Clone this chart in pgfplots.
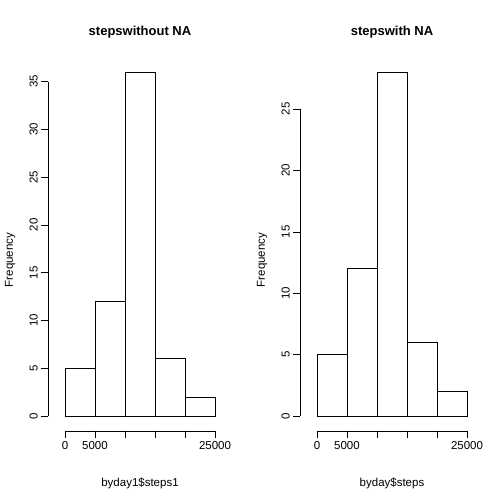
\documentclass[border=0pt]{standalone}
\usepackage{pgfplots}
\pgfplotsset{compat=1.18}
\usepackage{fontspec}
\setmainfont{Liberation Sans}
\begin{document}
\fontsize{11.5}{13}\selectfont
\begin{tikzpicture}
\fill[white] (0,0) rectangle (504pt,504pt);
\node[font=\bfseries\fontsize{13}{15}\selectfont] at (140pt,472pt) {stepswithout NA};
\node[font=\bfseries\fontsize{13}{15}\selectfont] at (392pt,472pt) {stepswith NA};
\node at (140pt,21pt) {byday1\$steps1};
\node at (392pt,21pt) {byday\$steps};
\node[rotate=90] at (10pt,244pt) {Frequency};
\node[rotate=90] at (262pt,244pt) {Frequency};
\begin{axis}[at={(65pt,88pt)},anchor=south west,width=150pt,height=344pt,scale only axis,
 xmin=0,xmax=25000,ymin=0,ymax=36,axis lines=none,clip=false]
\addplot[ybar interval,fill=white,draw=black] coordinates {(0,5)(5000,12)(10000,36)(15000,6)(20000,2)(25000,2)};
\draw ([xshift=-17pt]axis cs:0,0) -- ([xshift=-17pt]axis cs:0,35);
\pgfplotsinvokeforeach{0,5,10,15,20,25,30,35}{\draw ([xshift=-17pt]axis cs:0,#1) -- ++(-7pt,0) node[rotate=90,anchor=south,inner sep=3pt] {#1};}
\draw ([yshift=-15pt]axis cs:0,0) -- ([yshift=-15pt]axis cs:25000,0);
\pgfplotsinvokeforeach{0,5000,10000,15000,20000,25000}{\draw ([yshift=-15pt]axis cs:#1,0) -- ++(0,-7pt);}
\pgfplotsinvokeforeach{0,5000,25000}{\node[anchor=north,inner sep=3pt] at ([yshift=-22pt]axis cs:#1,0) {#1};}
\end{axis}
\begin{axis}[at={(317pt,88pt)},anchor=south west,width=150pt,height=344pt,scale only axis,
 xmin=0,xmax=25000,ymin=0,ymax=28,axis lines=none,clip=false]
\addplot[ybar interval,fill=white,draw=black] coordinates {(0,5)(5000,12)(10000,28)(15000,6)(20000,2)(25000,2)};
\draw ([xshift=-17pt]axis cs:0,0) -- ([xshift=-17pt]axis cs:0,25);
\pgfplotsinvokeforeach{0,5,10,15,20,25}{\draw ([xshift=-17pt]axis cs:0,#1) -- ++(-7pt,0) node[rotate=90,anchor=south,inner sep=3pt] {#1};}
\draw ([yshift=-15pt]axis cs:0,0) -- ([yshift=-15pt]axis cs:25000,0);
\pgfplotsinvokeforeach{0,5000,10000,15000,20000,25000}{\draw ([yshift=-15pt]axis cs:#1,0) -- ++(0,-7pt);}
\pgfplotsinvokeforeach{0,5000,25000}{\node[anchor=north,inner sep=3pt] at ([yshift=-22pt]axis cs:#1,0) {#1};}
\end{axis}
\end{tikzpicture}
\end{document}
